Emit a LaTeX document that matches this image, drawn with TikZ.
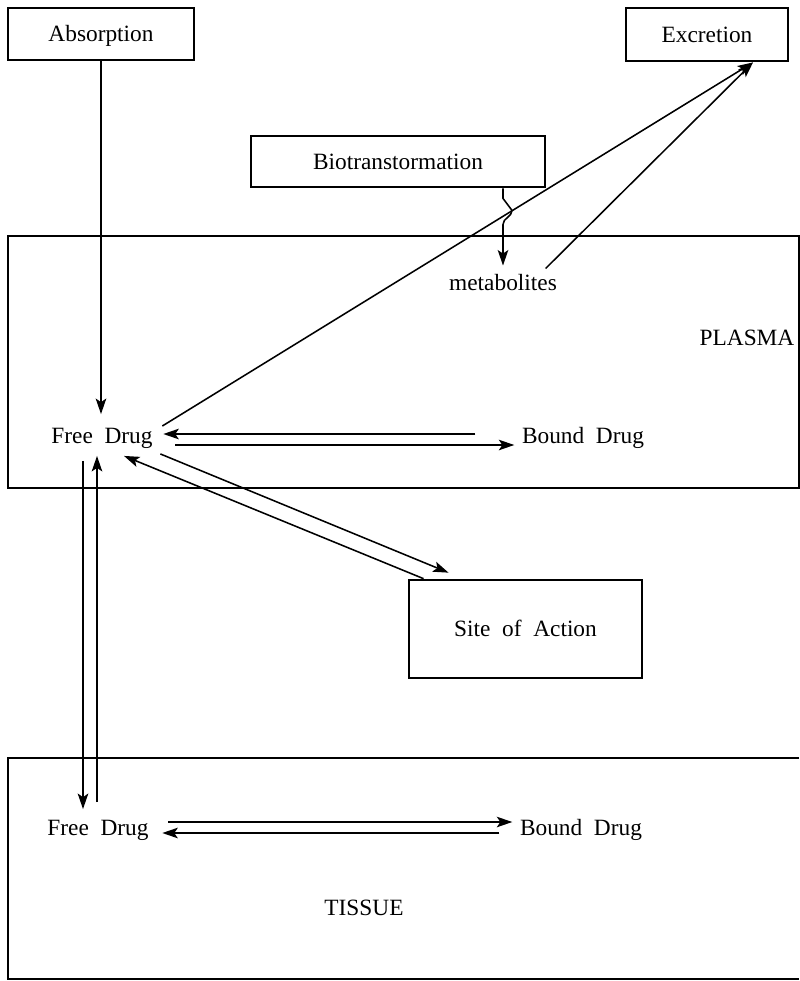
\documentclass[tikz,border=0pt]{standalone}
\usepackage{fontspec}
\setmainfont{Liberation Serif}
\usepackage{tikz}
\usetikzlibrary{arrows.meta,calc,positioning}
\tikzset{proc/.style={draw, rectangle, line width=1.9pt, inner sep=0pt, text height=11pt, text depth=0pt}}
\tikzstyle{lbl}=[inner sep=0pt]
\tikzstyle{comp}=[line width=2pt]

\begin{document}
\begin{tikzpicture}[>={Stealth[length=11pt,width=7.5pt,inset=2.5pt]}, x=0.025cm, y=-0.025cm, line width=1.1pt, font=\fontsize{16.6}{19}\selectfont]
\useasboundingbox (0,0) rectangle (800,981);
% compartments
\draw[comp] (8,236) rectangle (799,488);
\draw[comp] (799,758) -- (8,758) -- (8,979) -- (799,979);
\node[lbl] (plasma) at (747,338) {PLASMA};
\node[lbl] (tissue) at (364,908) {TISSUE};
% boxes
\node[proc, minimum width=4.65cm, minimum height=1.3cm] (absorp) at (101,34) {Absorption};
\node[proc, minimum width=4.05cm, minimum height=1.33cm] (excr) at (707,34.5) {Excretion};
\node[proc, minimum width=7.35cm, minimum height=1.28cm] (bio) at (398,161.5) {Biotranstormation};
\node[proc, minimum width=5.83cm, minimum height=2.45cm] (site) at (525.5,629) {Site~ of~ Action};
% drugs
\node[lbl] (met) at (503,282.5) {metabolites};
\node[lbl] (pfree) at (102,438) {Free~ Drug};
\node[lbl] (pbound) at (583,438) {Bound~ Drug};
\node[lbl] (tfree) at (98,830) {Free~ Drug};
\node[lbl] (tbound) at (581,830) {Bound~ Drug};

\draw[->] (absorp.south) -- ($(absorp.south |- pfree.north)+(0,-13)$);
\draw[->] ($(pfree.east)+(9,-12)$) -- ($(excr.south)+(46,0)$);
\draw[->] ($(met.north east)+(-12,-5)$) -- ($(excr.south)+(46,0)$);
\draw[->] (bio.south -| met) -- ++(0,10) -- ++(9,12) to[out=-90,in=90] ++(-9,14) -- ($(met.north)+(0,-8)$);

\draw[->] ($(pbound.west)+(-46,-4)$) -- ($(pfree.east)+(10,-4)$);
\draw[->] ($(pfree.east)+(22,7)$) -- ($(pbound.west)+(-7,7)$);

\draw[->] ($(site.north west)+(16,0)$) -- ($(pfree.south)+(22,7)$);
\draw[->] ($(pfree.south east)+(7,5)$) -- ($(site.north west)+(41,-6)$);

\draw[->] ($(pfree.south)+(-19,12)$) -- ($(tfree.north)+(-15,-10)$);
\draw[->] ($(tfree.north)+(-1,-17)$) -- ($(pfree.south)+(-5,7)$);

\draw[->] ($(tfree.east)+(19,-8)$) -- ($(tbound.west)+(-7,-8)$);
\draw[->] ($(tbound.west)+(-20,3)$) -- ($(tfree.east)+(13,3)$);
\end{tikzpicture}
\end{document}
